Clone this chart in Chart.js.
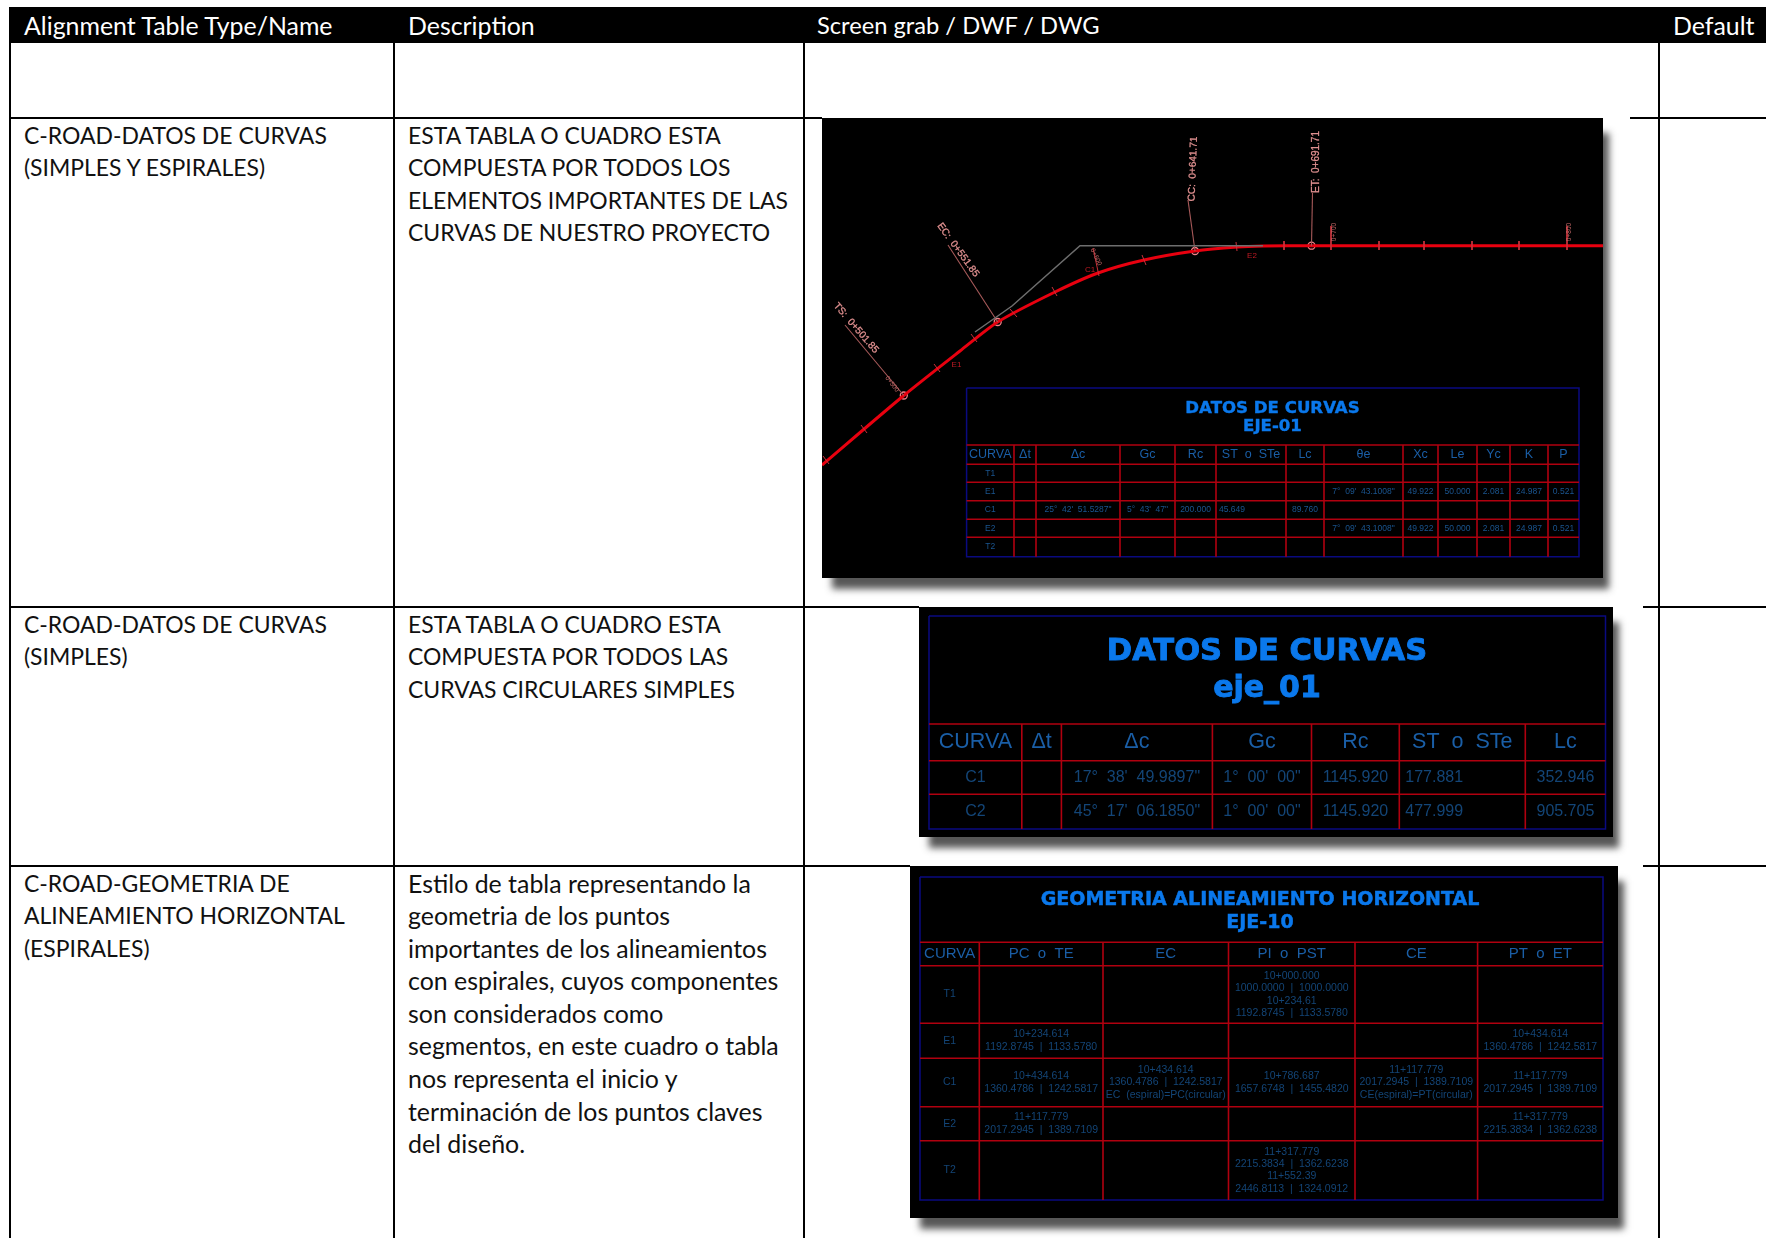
<!DOCTYPE html>
<html>
<head>
<meta charset="utf-8">
<title>Alignment tables</title>
<script src="https://cdn.jsdelivr.net/npm/chart.js@4/dist/chart.umd.js"></script>
<style>
  html, body { margin: 0; background: #fff; }
  body { position: relative; width: 1766px; height: 1238px; overflow: hidden; }
  #doc { position: absolute; left: 9px; top: 7px; width: 1757px; table-layout: fixed; border-collapse: separate; border-spacing: 0;
         font-family: Lato, sans-serif; font-size: 24.9px; line-height: 32.6px; color: #111; }
  #doc th { background: #000; color: #fff; font-weight: 400; text-align: left; height: 36px; padding: 0 0 0 15px; white-space: nowrap; }
  #doc th.caps { font-size: 23.7px; padding-left: 14px; }
  #doc td { vertical-align: top; padding: 0 0 0 13px; border-left: 2px solid #000; border-bottom: 2.5px solid #000; box-sizing: border-box; white-space: nowrap; }
  #doc td.caps { font-size: 22.95px; }
  .cover { position: absolute; background: #fff; }
  canvas.cad { position: absolute; filter: blur(0.6px); box-shadow: 8px 13px 7px -2px rgba(45,45,45,.8); }
</style>
</head>
<body>
<table id="doc"><colgroup><col style="width:384px"><col style="width:410px"><col style="width:855px"><col></colgroup><thead></thead><tbody></tbody></table>
<div class="cover" style="left:822px;top:116px;width:808px;height:480px"></div>
<div class="cover" style="left:919px;top:604px;width:724px;height:257px"></div>
<div class="cover" style="left:910px;top:863px;width:733px;height:375px"></div>
<canvas class="cad" id="plan"></canvas>
<canvas class="cad" id="curvas"></canvas>
<canvas class="cad" id="geometria"></canvas>
<script>
// outer document table
const docHeaders = ['Alignment Table Type/Name', 'Description', 'Screen grab / DWF / DWG', 'Default'];
const docHeaderCaps = [false, false, true, false];
const docRowHeights = [75.5, 489, 259, 420];
const docNames = [
  '',
  'C-ROAD-DATOS DE CURVAS<br>(SIMPLES Y ESPIRALES)',
  'C-ROAD-DATOS DE CURVAS<br>(SIMPLES)',
  'C-ROAD-GEOMETRIA DE<br>ALINEAMIENTO HORIZONTAL<br>(ESPIRALES)',
];
const docDescriptions = [
  '',
  'ESTA TABLA O CUADRO ESTA<br>COMPUESTA POR TODOS LOS<br>ELEMENTOS IMPORTANTES DE LAS<br>CURVAS DE NUESTRO PROYECTO',
  'ESTA TABLA O CUADRO ESTA<br>COMPUESTA POR TODOS LAS<br>CURVAS CIRCULARES SIMPLES',
  'Estilo de tabla representando la<br>geometria de los puntos<br>importantes de los alineamientos<br>con espirales, cuyos componentes<br>son considerados como<br>segmentos, en este cuadro o tabla<br>nos representa el inicio y<br>terminación de los puntos claves<br>del diseño.',
];
const docDescriptionCaps = [false, true, true, false];

// plan view, values in page-sized drawing units
const planX = [822, 903.8, 960, 997.7, 1055, 1098, 1144, 1195, 1237, 1263, 1311.5, 1603];
const planY = [465, 395.5, 351, 322, 292, 273, 260, 251, 247, 246, 245.7, 245.7];
const tangentX = [975, 1012, 1080, 1263];
const tangentY = [332, 306, 245.7, 245.7];
const keyPointX = [903.8, 997.7, 1195, 1311.5];
const keyPointY = [395.5, 322, 251, 245.7];
const leaderTops = [[845, 325], [948, 245], [1188, 200], [1312.5, 193]];
const keyPointLabels = ['TS:  0+501.85', 'EC:  0+551.85', 'CC:  0+641.71', 'ET:  0+691.71'];
const keyLabelX = [856, 958, 1193, 1316];
const keyLabelY = [328, 250, 169, 162];
const keyLabelAngle = [49, 54, -88, -90];
const stationTicks = [
  [823, 456, 829, 464], [861, 425, 867, 433], [934, 364, 940, 372], [971, 334, 977, 342],
  [1010, 309, 1017, 317], [1052, 287, 1057, 296], [1093, 248, 1099, 276], [1142, 255, 1146, 265],
  [1236, 242, 1237, 251], [1284, 241, 1284, 250], [1331, 226, 1331, 250], [1379, 241, 1379, 250],
  [1424, 241, 1424, 250], [1472, 241, 1472, 250], [1519, 241, 1519, 250], [1567, 226, 1567, 250],
];
const stationLabels = ['0+500', '0+600', '0+700', '0+800'];
const stationLabelX = [892, 1096, 1334, 1569];
const stationLabelY = [384, 257, 232, 232];
const stationLabelAngle = [52, 65, -90, -90];
const curveLabels = ['E1', 'C1', 'E2'];
const curveLabelX = [956.5, 1090, 1252];
const curveLabelY = [365, 270, 256];

// table inside the plan view
const planCols = [966.6, 1014, 1036, 1120, 1175, 1216, 1286, 1324, 1403, 1438, 1477, 1510, 1548, 1579];
const planRows = [445, 464.3, 482.3, 500.7, 519.3, 537.3, 556.7];
const planHead = ['CURVA', 'Δt', 'Δc', 'Gc', 'Rc', 'ST  o  STe', 'Lc', 'θe', 'Xc', 'Le', 'Yc', 'K', 'P'];
const planCells = [
  ['T1', '', '', '', '', '', '', '', '', '', '', '', ''],
  ['E1', '', '', '', '', '', '', '7°  09\'  43.1008"', '49.922', '50.000', '2.081', '24.987', '0.521'],
  ['C1', '', '25°  42\'  51.5287"', '5°  43\'  47"', '200.000', '45.649', '89.760', '', '', '', '', '', ''],
  ['E2', '', '', '', '', '', '', '7°  09\'  43.1008"', '49.922', '50.000', '2.081', '24.987', '0.521'],
  ['T2', '', '', '', '', '', '', '', '', '', '', '', ''],
];

// curvas simples
const curvasCols = [929, 1021.8, 1061.4, 1212.4, 1311.5, 1399.3, 1525.3, 1605.5];
const curvasRows = [724, 760.7, 794.3, 829];
const curvasHead = ['CURVA', 'Δt', 'Δc', 'Gc', 'Rc', 'ST  o  STe', 'Lc'];
const curvasCells = [
  ['C1', '', '17°  38\'  49.9897"', '1°  00\'  00"', '1145.920', '177.881', '352.946'],
  ['C2', '', '45°  17\'  06.1850"', '1°  00\'  00"', '1145.920', '477.999', '905.705'],
];

// geometria
const geoCols = [920, 979.3, 1103, 1228.5, 1355, 1477.6, 1603];
const geoRows = [942.3, 965.7, 1023.3, 1058.3, 1106.7, 1140.7, 1200];
const geoHead = ['CURVA', 'PC  o  TE', 'EC', 'PI  o  PST', 'CE', 'PT  o  ET'];
const geoCells = [
  ['T1', '', '', '10+000.000\n1000.0000  |  1000.0000\n10+234.61\n1192.8745  |  1133.5780', '', ''],
  ['E1', '10+234.614\n1192.8745  |  1133.5780', '', '', '', '10+434.614\n1360.4786  |  1242.5817'],
  ['C1', '10+434.614\n1360.4786  |  1242.5817', '10+434.614\n1360.4786  |  1242.5817\nEC  (espiral)=PC(circular)', '10+786.687\n1657.6748  |  1455.4820', '11+117.779\n2017.2945  |  1389.7109\nCE(espiral)=PT(circular)', '11+117.779\n2017.2945  |  1389.7109'],
  ['E2', '11+117.779\n2017.2945  |  1389.7109', '', '', '', '11+317.779\n2215.3834  |  1362.6238'],
  ['T2', '', '', '11+317.779\n2215.3834  |  1362.6238\n11+552.39\n2446.8113  |  1324.0912', '', ''],
];

const RED = '#b0000f';
const NAVY = '#0a0a80';
const TITLE_BLUE = '#0a78ec';
const HEAD_BLUE = '#1a5ea6';
const CELL_BLUE = '#134577';

function buildDocTable() {
  document.querySelector('#doc thead').innerHTML =
    `<tr>${docHeaders.map((h, i) => `<th class="${docHeaderCaps[i] ? 'caps' : ''}">${h}</th>`).join('')}</tr>`;
  document.querySelector('#doc tbody').innerHTML = docRowHeights
    .map((height, i) => `<tr style="height:${height}px"><td class="caps">${docNames[i]}</td><td class="${docDescriptionCaps[i] ? 'caps' : ''}">${docDescriptions[i]}</td><td></td><td></td></tr>`)
    .join('');
}

function line(points, color, width, extra = {}) {
  return { data: points, showLine: true, borderColor: color, borderWidth: width, pointRadius: 0, ...extra };
}

function tableLines(cols, rows, boxTop) {
  const left = cols[0];
  const right = cols[cols.length - 1];
  const top = rows[0];
  const bottom = rows[rows.length - 1];
  const sets = [];
  rows.slice(0, -1).forEach((y) => sets.push(line([{ x: left, y }, { x: right, y }], RED, 1.6)));
  cols.slice(1, -1).forEach((x) => sets.push(line([{ x, y: top }, { x, y: bottom }], RED, 1.6)));
  sets.push(line([{ x: left, y: boxTop }, { x: right, y: boxTop }, { x: right, y: bottom }, { x: left, y: bottom }, { x: left, y: boxTop }], NAVY, 1.5));
  return sets;
}

function tableText(cols, rows, head, cells, opts) {
  const items = [];
  const cx = (j) => (cols[j] + cols[j + 1]) / 2;
  head.forEach((text, j) => items.push({ x: cx(j), y: (rows[0] + rows[1]) / 2, text, font: opts.headFont, color: HEAD_BLUE, maxW: cols[j + 1] - cols[j] - 3 }));
  cells.forEach((row, i) => {
    const midY = (rows[i + 1] + rows[i + 2]) / 2;
    row.forEach((cell, j) => {
      if (!cell) return;
      const parts = cell.split('\n');
      parts.forEach((text, k) => {
        const leftAlign = opts.leftCol === j;
        items.push({
          x: leftAlign ? cols[j] + opts.leftPad : cx(j),
          y: midY + (k - (parts.length - 1) / 2) * (opts.lineH || 12),
          text,
          font: opts.cellFont,
          color: opts.cellColor || CELL_BLUE,
          align: leftAlign ? 'left' : 'center',
          maxW: cols[j + 1] - cols[j] - 2,
        });
      });
    });
  });
  return items;
}

function drawPanel(id, rect, datasets, labels) {
  const canvas = document.getElementById(id);
  canvas.width = rect.x1 - rect.x0;
  canvas.height = rect.y1 - rect.y0;
  canvas.style.left = `${rect.x0}px`;
  canvas.style.top = `${rect.y0}px`;

  const textPlugin = {
    id: 'cadText',
    afterDatasetsDraw(chart) {
      const { ctx, scales } = chart;
      labels.forEach((l) => {
        ctx.save();
        ctx.translate(scales.x.getPixelForValue(l.x), scales.y.getPixelForValue(l.y));
        if (l.angle) ctx.rotate((l.angle * Math.PI) / 180);
        ctx.font = l.font;
        ctx.fillStyle = l.color;
        ctx.textAlign = l.align || 'center';
        ctx.textBaseline = 'middle';
        if (l.heavy) {
          ctx.strokeStyle = l.color;
          ctx.lineWidth = l.heavy;
          ctx.strokeText(l.text, 0, 0, l.maxW);
        }
        ctx.fillText(l.text, 0, 0, l.maxW);
        ctx.restore();
      });
    },
  };
  const backgroundPlugin = {
    id: 'cadBackground',
    beforeDraw(chart) {
      chart.ctx.fillStyle = '#000';
      chart.ctx.fillRect(0, 0, chart.width, chart.height);
    },
  };

  new Chart(canvas, {
    type: 'scatter',
    data: { datasets },
    plugins: [backgroundPlugin, textPlugin],
    options: {
      responsive: false,
      animation: false,
      layout: { padding: 0, autoPadding: false },
      plugins: { legend: { display: false }, tooltip: { enabled: false } },
      scales: {
        x: { display: false, min: rect.x0, max: rect.x1 },
        y: { display: false, min: rect.y0, max: rect.y1, reverse: true },
      },
    },
  });
}

function renderPlan() {
  const datasets = [
    line(tangentX.map((x, i) => ({ x, y: tangentY[i] })), '#6e6e6e', 1.5),
  ];
  keyPointX.forEach((x, i) => {
    const [tx, ty] = leaderTops[i];
    datasets.push(line([{ x, y: keyPointY[i] }, { x: tx, y: ty }], '#a85a5a', 1.1));
  });
  stationTicks.forEach(([x1, y1, x2, y2]) => {
    datasets.push(line([{ x: x1, y: y1 }, { x: x2, y: y2 }], '#c9303a', 1));
  });
  datasets.push(line(planX.map((x, i) => ({ x, y: planY[i] })), '#e8000f', 3, { tension: 0.25 }));
  datasets.push({
    data: keyPointX.map((x, i) => ({ x, y: keyPointY[i] })),
    pointRadius: 3.5,
    pointBorderColor: '#f58088',
    pointBorderWidth: 1.3,
    pointBackgroundColor: 'rgba(0,0,0,0)',
  });
  datasets.push(...tableLines(planCols, planRows, 388));

  const labels = [
    { x: 1272.5, y: 408.5, text: 'DATOS DE CURVAS', font: 'bold 16.6px "DejaVu Sans"', color: TITLE_BLUE, heavy: 0.4 },
    { x: 1272.5, y: 427, text: 'EJE-01', font: 'bold 16.6px "DejaVu Sans"', color: TITLE_BLUE, heavy: 0.4 },
    ...tableText(planCols, planRows, planHead, planCells, {
      headFont: '12.5px "Liberation Sans"', cellFont: '8.5px "Liberation Sans"', cellColor: '#1a5590', leftCol: 5, leftPad: 3,
    }),
  ];
  keyPointLabels.forEach((text, i) => {
    labels.push({ x: keyLabelX[i], y: keyLabelY[i], text, font: '10px "Liberation Sans"', color: '#e09090', angle: keyLabelAngle[i], heavy: 0.3 });
  });
  stationLabels.forEach((text, i) => {
    labels.push({ x: stationLabelX[i], y: stationLabelY[i], text, font: '6.5px "Liberation Sans"', color: '#c86a6a', angle: stationLabelAngle[i] });
  });
  curveLabels.forEach((text, i) => {
    labels.push({ x: curveLabelX[i], y: curveLabelY[i], text, font: '8px "Liberation Sans"', color: '#c01a24' });
  });
  drawPanel('plan', { x0: 822, x1: 1603, y0: 118, y1: 578 }, datasets, labels);
}

function renderCurvas() {
  const labels = [
    { x: 1267, y: 652, text: 'DATOS DE CURVAS', font: 'bold 30.5px "DejaVu Sans"', color: TITLE_BLUE, heavy: 0.9 },
    { x: 1267, y: 689, text: 'eje_01', font: 'bold 30px "DejaVu Sans"', color: TITLE_BLUE, heavy: 0.9 },
    ...tableText(curvasCols, curvasRows, curvasHead, curvasCells, {
      headFont: '21.5px "Liberation Sans"', cellFont: '16px "Liberation Sans"', leftCol: 5, leftPad: 6,
    }),
  ];
  drawPanel('curvas', { x0: 919, x1: 1613, y0: 607, y1: 837 }, tableLines(curvasCols, curvasRows, 616), labels);
}

function renderGeometria() {
  const labels = [
    { x: 1260, y: 900, text: 'GEOMETRIA ALINEAMIENTO HORIZONTAL', font: 'bold 19px "DejaVu Sans"', color: TITLE_BLUE, heavy: 0.5 },
    { x: 1260, y: 923, text: 'EJE-10', font: 'bold 19px "DejaVu Sans"', color: TITLE_BLUE, heavy: 0.5 },
    ...tableText(geoCols, geoRows, geoHead, geoCells, {
      headFont: '15px "Liberation Sans"', cellFont: '10.5px "Liberation Sans"', lineH: 12.4,
    }),
  ];
  drawPanel('geometria', { x0: 910, x1: 1618, y0: 866, y1: 1218 }, tableLines(geoCols, geoRows, 877), labels);
}

buildDocTable();
renderPlan();
renderCurvas();
renderGeometria();
</script>
</body>
</html>
